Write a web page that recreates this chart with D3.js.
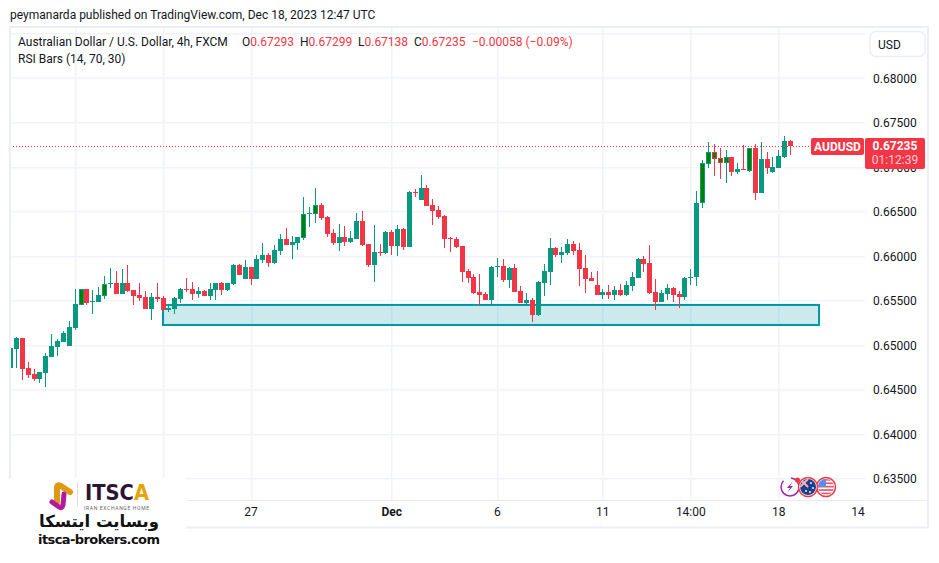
<!DOCTYPE html>
<head>
<meta charset="utf-8">
<title>AUDUSD 4h</title>
<script src="https://d3js.org/d3.v7.min.js"></script>
<style>
html, body { margin: 0; padding: 0; background: #fff; }
svg { display: block; }
text { font-family: Roboto, sans-serif; fill: #131722; }
</style>
</head>
<body>
<div id="container"></div>
<script>
//*******************
// data (4h bars, first bar is number 1)
//*******************
const opens = [.64741,.64955,.65078,.64741,.64674,.64618,.64685,.64865,.64977,.65033,.64988,.65191,.65449,.65629,.65483,.65483,.65550,.65685,.65696,.65573,.65696,.65618,.65561,.65539,.65404,.65539,.65528,.65393,.65404,.65517,.65629,.65629,.65573,.65606,.65550,.65618,.65696,.65618,
  .65685,.65899,.65741,.65876,.65741,.65955,.66011,.65921,.66056,.66191,.66123,.66146,.66202,.66472,.66472,.66573,.66438,.66258,.66146,.66213,.66157,.66191,.66393,.66135,.65899,.66045,.66033,.66269,.66112,.66303,.66101,.66719,.66629,.66764,.66573,.66517,.66449,.66202,.66191,.66112,.65831,.65764,.65595,.65573,.65505,.65876,.65887,.65730,.65865,.65606,.65472,.65505,.65337,.65696,.65820,.66090,.66011,.66033,.66135,.66067,.65865,.65752,.65674,.65561,.65595,.65561,.65618,.65561,.65663,.65752,.65966,.65921,.65595,.65483,.65573,.65640,.65573,.65539,
  .65752,.65764,.66595,.67033,.67168,.67101,.67045,.67112,.66944,.66977,.66955,.67213,.66708,.67090,.66944,.66988,.67112,.67293];
const highs = [.65045,.65090,.65078,.64809,.64730,.64696,.64910,.65123,.65067,.65157,.65269,.65629,.65629,.65629,.65618,.65651,.65775,.65865,.65831,.65854,.65899,.65618,.65696,.65606,.65584,.65696,.65550,.65460,.65539,.65640,.65753,.65708,.65651,.65618,.65696,.65696,.65708,.65696,
  .65910,.65910,.65955,.65876,.66011,.66146,.66033,.66123,.66247,.66314,.66224,.66213,.66663,.66550,.66764,.66595,.66449,.66303,.66359,.66337,.66281,.66483,.66505,.66135,.66348,.66135,.66281,.66292,.66348,.66314,.66730,.66753,.66910,.66798,.66640,.66562,.66460,.66213,.66213,.66112,.65854,.65797,.65797,.65595,.65887,.65977,.65966,.65876,.65910,.65663,.65584,.65528,.65719,.65910,.66202,.66101,.66101,.66191,.66168,.66146,.66011,.65820,.65831,.65629,.65674,.65663,.65685,.65719,.65820,.65977,.66000,.66123,.65741,.65618,.65685,.65651,.65606,.65764,
  .65854,.66730,.67078,.67281,.67258,.67213,.67191,.67112,.67045,.67247,.67213,.67258,.67281,.67168,.67112,.67191,.67348,.67299];
const lows = [.64719,.64741,.64606,.64629,.64595,.64573,.64528,.64865,.64876,.65033,.64988,.65168,.65449,.65449,.65348,.65483,.65517,.65640,.65573,.65573,.65595,.65449,.65494,.65404,.65281,.65483,.65393,.65370,.65348,.65472,.65595,.65505,.65528,.65550,.65505,.65505,.65561,.65606,
  .65674,.65786,.65741,.65674,.65741,.65921,.65876,.65910,.66011,.66123,.65966,.66067,.66180,.66326,.66371,.66404,.66213,.66123,.66056,.66112,.66146,.66191,.66112,.65876,.65708,.66000,.66022,.66011,.66000,.66067,.66101,.66663,.66629,.66562,.66348,.66415,.66090,.66045,.66090,.65708,.65696,.65573,.65449,.65505,.65460,.65764,.65708,.65640,.65595,.65472,.65449,.65258,.65326,.65550,.65674,.65988,.65921,.66011,.66011,.65663,.65584,.65719,.65561,.65517,.65517,.65505,.65550,.65550,.65606,.65752,.65820,.65573,.65393,.65483,.65505,.65483,.65415,.65505,
  .65674,.65663,.66539,.66988,.66899,.66865,.66820,.66899,.66921,.66966,.66944,.66629,.66708,.66921,.66932,.66988,.67101,.67138];
const closes = [.64966,.65078,.64730,.64663,.64618,.64696,.64876,.64988,.65045,.65134,.65202,.65460,.65629,.65472,.65494,.65561,.65685,.65696,.65573,.65696,.65606,.65550,.65528,.65404,.65539,.65517,.65393,.65415,.65528,.65629,.65618,.65573,.65606,.65550,.65629,.65696,.65618,.65696,
  .65899,.65786,.65876,.65741,.65966,.66011,.65921,.66067,.66191,.66123,.66157,.66213,.66472,.66483,.66573,.66427,.66247,.66146,.66213,.66157,.66202,.66393,.66123,.65899,.66045,.66033,.66269,.66112,.66303,.66101,.66719,.66708,.66764,.66562,.66505,.66438,.66191,.66191,.66101,.65820,.65752,.65584,.65561,.65505,.65876,.65887,.65730,.65865,.65595,.65472,.65505,.65337,.65708,.65831,.66090,.66011,.66045,.66135,.66056,.65854,.65741,.65719,.65561,.65595,.65561,.65618,.65561,.65674,.65764,.65966,.65910,.65584,.65483,.65584,.65640,.65561,.65539,.65752,
  .65764,.66595,.67045,.67168,.67090,.67045,.67112,.66944,.66977,.66966,.67213,.66708,.67090,.66988,.67000,.67123,.67292,.67235];
// bars painted dark green by the RSI Bars study
const rsiBars = [13,17,51,53,119,120,121,122,123,127];

const priceTicks = [0.635,0.64,0.645,0.65,0.655,0.66,0.665,0.67,0.675,0.68];
const gridPrices = [0.635,0.64,0.645,0.65,0.655,0.66,0.665,0.67,0.675,0.68,0.685];
const gridBars = [12,27,42,66,84,102,117,132];
const timeBars = [42,66,84,102,117,132,145.5];
const timeLabels = ["27","Dec","6","11","14:00","18","14"];
const zoneBars = [27,138.86];
const zonePrices = [0.6545,0.65225];
const lastPrice = 0.67235;

//*******************
// setup svg
//*******************
const width = 939, height = 563;
const paneL = 10, paneR = 865, paneT = 27, paneB = 500;
const green = "#089981", red = "#F23645", gridCol = "#F0F3FA", frameCol = "#ECEEF5";

const svg = d3.select("#container").append("svg")
    .attr("width", width)
    .attr("height", height);

const x = d3.scaleLinear().domain([2,134]).range([16.5,790.5]);
const y = d3.scaleLinear().domain([0.635,0.685]).range([478.5,33.5]);

svg.append("defs").append("clipPath").attr("id","pane")
  .append("rect").attr("x",paneL+0.7).attr("y",paneT).attr("width",paneR-paneL).attr("height",paneB-paneT);

//*******************
// grid
//*******************
const grid = svg.append("g");
grid.selectAll("rect.h").data(gridPrices).enter().append("rect")
    .attr("x",paneL).attr("width",paneR-paneL)
    .attr("y",d => Math.floor(y(d))).attr("height",1.5)
    .attr("fill",gridCol);
grid.selectAll("rect.v").data(gridBars).enter().append("rect")
    .attr("y",paneT).attr("height",paneB-paneT)
    .attr("x",d => Math.floor(x(d))).attr("width",1.5)
    .attr("fill",gridCol);

//*******************
// support zone (sits under the candles)
//*******************
svg.append("rect")
    .attr("x",Math.floor(x(zoneBars[0])))
    .attr("y",y(zonePrices[0]))
    .attr("width",x(zoneBars[1])-Math.floor(x(zoneBars[0])))
    .attr("height",y(zonePrices[1])-y(zonePrices[0]))
    .attr("fill","rgba(0,151,167,0.2)")
    .attr("stroke","#0097A7")
    .attr("stroke-width",2);

//*******************
// candles
//*******************
const bars = opens.map((o,i) => ({n:i+1, o:o, h:highs[i], l:lows[i], c:closes[i]}));
const candles = svg.append("g").attr("clip-path","url(#pane)")
    .selectAll("g").data(bars).enter().append("g")
    .attr("shape-rendering","crispEdges");
const col = d => d.c >= d.o ? green : red;

candles.append("rect")
    .attr("x",d => Math.floor(x(d.n)))
    .attr("width",1)
    .attr("y",d => Math.round(y(d.h)))
    .attr("height",d => Math.max(1,Math.round(y(d.l))-Math.round(y(d.h))))
    .attr("fill",col);
candles.append("rect")
    .attr("x",d => Math.floor(x(d.n))-2)
    .attr("width",5)
    .attr("y",d => Math.round(y(Math.max(d.o,d.c))))
    .attr("height",d => Math.max(1,Math.round(y(Math.min(d.o,d.c)))-Math.round(y(Math.max(d.o,d.c)))))
    .attr("fill",col);
candles.filter(d => rsiBars.includes(d.n)).append("rect")
    .attr("x",d => Math.floor(x(d.n))-1)
    .attr("width",3)
    .attr("y",d => Math.round(y(Math.max(d.o,d.c)))+1)
    .attr("height",d => Math.round(y(Math.min(d.o,d.c)))-Math.round(y(Math.max(d.o,d.c)))-2)
    .attr("fill","#008000");

// last price line
svg.append("line")
    .attr("x1",paneL).attr("x2",811)
    .attr("y1",Math.floor(y(lastPrice))+0.5).attr("y2",Math.floor(y(lastPrice))+0.5)
    .attr("stroke",red).attr("stroke-dasharray","1,2");

//*******************
// frame and axes
//*******************
svg.append("rect").attr("x",10).attr("y",27).attr("width",918).attr("height",500.5)
    .attr("fill","none").attr("stroke",frameCol).attr("stroke-width",2);
svg.append("rect").attr("x",paneL).attr("y",500).attr("width",855).attr("height",1).attr("fill","#E8EAF2");
svg.append("rect").attr("x",866).attr("y",500).attr("width",62).attr("height",1).attr("fill","#E8EAF2");

const yaxis = d3.axisRight(y)
    .tickValues(priceTicks)
    .tickSize(0)
    .tickPadding(0)
    .tickFormat(d3.format(".5f"));
const gy = svg.append("g").attr("transform","translate(873,0)").call(yaxis);
gy.select(".domain").remove();
gy.selectAll("text").style("font-size","12px").attr("dy","0.35em").attr("fill","#131722")
  .style("font-family","Roboto");

const xaxis = d3.axisBottom(x)
    .tickValues(timeBars)
    .tickSize(0)
    .tickPadding(0)
    .tickFormat((d,i) => timeLabels[i]);
const gx = svg.append("g").attr("transform","translate(-0.5,507.5)").call(xaxis);
gx.select(".domain").remove();
gx.selectAll("text").style("font-size","12px").attr("dy","0.71em").attr("fill","#131722")
  .style("font-family","Roboto")
  .style("font-weight",(d,i) => timeLabels[i]=="Dec" ? 700 : 400);

//*******************
// texts on top
//*******************
svg.append("text").attr("x",10).attr("y",19).style("font-size","12px")
    .text("peymanarda published on TradingView.com, Dec 18, 2023 12:47 UTC");

const legend = svg.append("text").attr("x",18).attr("y",46).style("font-size","12px");
legend.append("tspan").text("Australian Dollar / U.S. Dollar, 4h, FXCM");
[["O","0.67293",242],["H","0.67299",300],["L","0.67138",358],["C","0.67235",414]].forEach(function(v){
    legend.append("tspan").attr("x",v[2]).text(v[0]);
    legend.append("tspan").style("fill",red).text(v[1]);
});
legend.append("tspan").attr("x",472).style("fill",red).text("−0.00058 (−0.09%)");
svg.append("text").attr("x",18).attr("y",63).style("font-size","12px").text("RSI Bars (14, 70, 30)");

// USD button
svg.append("rect").attr("x",870).attr("y",31.5).attr("width",55).attr("height",25).attr("rx",6)
    .attr("fill","#fff").attr("stroke",frameCol).attr("stroke-width",1.5);
svg.append("text").attr("x",878).attr("y",49).style("font-size","12px").text("USD");

// price labels
svg.append("rect").attr("x",811).attr("y",138).attr("width",53).attr("height",17).attr("rx",2).attr("fill",red);
svg.append("text").attr("x",837.5).attr("y",151).attr("text-anchor","middle")
    .style("fill","#fff").style("font-size","12px").style("font-weight",700).text("AUDUSD");
svg.append("rect").attr("x",865).attr("y",138).attr("width",60).attr("height",31).attr("rx",2).attr("fill",red);
svg.append("text").attr("x",895).attr("y",150).attr("text-anchor","middle")
    .style("fill","#fff").style("font-size","12px").style("font-weight",700).text(d3.format(".5f")(lastPrice));
svg.append("text").attr("x",895).attr("y",164).attr("text-anchor","middle")
    .style("fill","rgba(255,255,255,0.75)").style("font-size","12px").text("01:12:39");

//*******************
// symbol badges bottom right
//*******************
const badges = svg.append("g");
badges.append("circle").attr("cx",790).attr("cy",487).attr("r",9).attr("fill","#fff").attr("stroke","#9C27B0").attr("stroke-width",1.5).attr("stroke-dasharray","42,8").attr("transform","rotate(-45 790 487)");
badges.append("path").attr("d","M792.5 481.5L787 488L790 488L787.5 492.5L793 486L790 486Z").attr("fill","#9C27B0");
badges.append("circle").attr("cx",797.5).attr("cy",480).attr("r",2.5).attr("fill",red);

const defs = svg.select("defs");
defs.append("clipPath").attr("id","au").append("circle").attr("cx",808).attr("cy",487).attr("r",8);
defs.append("clipPath").attr("id","us").append("circle").attr("cx",826).attr("cy",487).attr("r",8);

const us = badges.append("g");
us.append("circle").attr("cx",826).attr("cy",487).attr("r",9.5).attr("fill","#fff").attr("stroke",red).attr("stroke-width",1.5);
const usFlag = us.append("g").attr("clip-path","url(#us)");
d3.range(0,5).forEach(function(i){
    usFlag.append("rect").attr("x",818).attr("y",479+i*3.4).attr("width",16).attr("height",1.7).attr("fill","#E8596A");
});
usFlag.append("rect").attr("x",818).attr("y",479).attr("width",8).attr("height",8).attr("fill","#5B8DEF");

const au = badges.append("g");
au.append("circle").attr("cx",808).attr("cy",487).attr("r",9.5).attr("fill","#fff").attr("stroke",red).attr("stroke-width",1.5);
const auFlag = au.append("g").attr("clip-path","url(#au)");
auFlag.append("rect").attr("x",800).attr("y",479).attr("width",16).attr("height",16).attr("fill","#1E3F8B");
auFlag.append("path").attr("d","M800 479L808 487M808 479L800 487").attr("stroke","#F4B6BC").attr("stroke-width",2);
[[811,483],[813,488],[806,491],[810,492]].forEach(function(s){
    auFlag.append("circle").attr("cx",s[0]).attr("cy",s[1]).attr("r",0.9).attr("fill","#fff");
});

//*******************
// logo stamp bottom left
//*******************
const logo = svg.append("g");
logo.append("rect").attr("x",0).attr("y",478).attr("width",186).attr("height",69).attr("fill","#fff");
logo.append("path").attr("d","M57 502L57 488Q57 484 61 486L70 492")
    .attr("fill","none").attr("stroke","#E09A12").attr("stroke-width",6).attr("stroke-linecap","round");
logo.append("path").attr("d","M52 502L59 507Q62 509 63 505L64 494")
    .attr("fill","none").attr("stroke","#B3199E").attr("stroke-width",5).attr("stroke-linecap","round");
logo.append("rect").attr("x",77).attr("y",482).attr("width",1).attr("height",24).attr("fill","#ddd");

const brand = logo.append("text").attr("x",85).attr("y",500)
    .attr("textLength",64).attr("lengthAdjust","spacingAndGlyphs")
    .style("font-size","21px").style("font-weight",700).style("font-family",'"DejaVu Sans"');
brand.append("tspan").style("fill","#2B1533").text("ITSC");
brand.append("tspan").style("fill","#E5A50A").text("A");
logo.append("text").attr("x",84).attr("y",510)
    .attr("textLength",65).attr("lengthAdjust","spacing")
    .style("font-size","5px").style("fill","#666").text("IRAN EXCHANGE HOME");
logo.append("text").attr("x",99).attr("y",527).attr("text-anchor","middle")
    .style("font-size","16.5px").style("font-weight",700).style("font-family",'"DejaVu Sans"').style("fill","#111")
    .text("وبسایت ایتسکا");
logo.append("text").attr("x",38).attr("y",544)
    .attr("textLength",122).attr("lengthAdjust","spacing")
    .style("font-size","13px").style("font-weight",700).style("font-family",'"DejaVu Sans"').style("fill","#111")
    .text("itsca-brokers.com");
</script>
</body>
